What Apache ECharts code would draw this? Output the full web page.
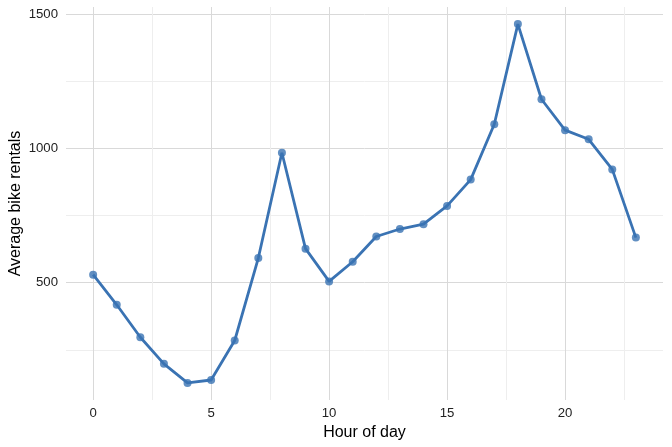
<!DOCTYPE html>
<html>
<head>
<meta charset="utf-8">
<script src="https://cdn.jsdelivr.net/npm/echarts@6/dist/echarts.min.js"></script>
<style>
  html, body { margin: 0; padding: 0; background: #fff; }
  #chart { width: 672px; height: 447px; }
</style>
</head>
<body>
<div id="chart"></div>
<script>
// data
const hours = [0, 1, 2, 3, 4, 5, 6, 7, 8, 9, 10, 11, 12, 13, 14, 15, 16, 17, 18, 19, 20, 21, 22, 23];
const rentals = [530, 418, 297, 198, 127, 138, 285, 592, 984, 627, 505, 578, 672, 700, 718, 786, 884, 1090, 1463, 1183, 1068, 1034, 922, 668];
const xGrid = [0, 2.5, 5, 7.5, 10, 12.5, 15, 17.5, 20, 22.5];
const xLabels = [0, 5, 10, 15, 20];
const yGrid = [250, 500, 750, 1000, 1250, 1500];
const yLabels = [500, 1000, 1500];

const chart = echarts.init(document.getElementById('chart'));
const font = 'Liberation Sans, Arial, sans-serif';

chart.setOption({
  animation: false,
  grid: { left: 66, right: 9, top: 7, bottom: 47, outerBoundsMode: 'none' },
  xAxis: {
    type: 'value',
    min: -1.15,
    max: 24.15,
    name: 'Hour of day',
    nameLocation: 'middle',
    nameGap: 24,
    nameTextStyle: { color: '#000', fontSize: 16, fontFamily: font },
    axisLine: { show: false },
    axisTick: { show: false, customValues: xGrid },
    axisLabel: { customValues: xLabels, color: '#222', fontSize: 13.2, fontFamily: font, margin: 7, formatter: v => String(v) },
    splitLine: { show: true, lineStyle: { color: ['#d9d9d9', '#eeeeee'], width: 1 } }
  },
  yAxis: {
    type: 'value',
    min: 63.5,
    max: 1526.5,
    name: 'Average bike rentals',
    nameLocation: 'middle',
    nameMoveOverlap: false,
    nameGap: 42,
    nameTextStyle: { color: '#000', fontSize: 16, fontFamily: font },
    axisLine: { show: false },
    axisTick: { show: false, customValues: yGrid },
    axisLabel: { customValues: yLabels, color: '#222', fontSize: 13.2, fontFamily: font, margin: 8, formatter: v => String(v) },
    splitLine: { show: true, lineStyle: { color: ['#eeeeee', '#d9d9d9'], width: 1 } }
  },
  series: [{
    type: 'line',
    data: hours.map((h, i) => [h, rentals[i]]),
    symbol: 'circle',
    symbolSize: 8,
    lineStyle: { color: '#3a73b3', width: 2.8 },
    itemStyle: { color: 'rgba(58,115,179,0.8)' }
  }]
});
</script>
</body>
</html>
